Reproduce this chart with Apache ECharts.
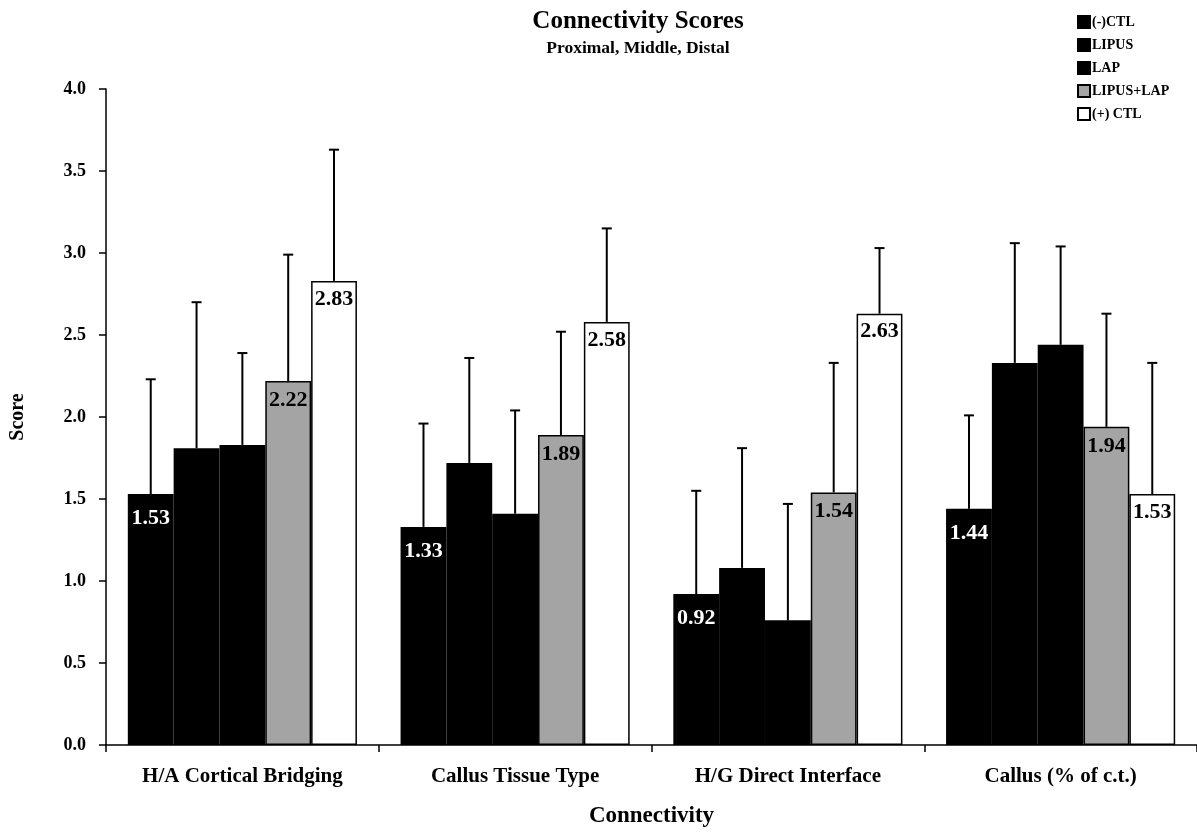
<!DOCTYPE html>
<html><head><meta charset="utf-8">
<script src="https://cdn.jsdelivr.net/npm/echarts@6/dist/echarts.min.js"></script>
<style>html,body{margin:0;padding:0;background:#fff}#c{width:1197px;height:833px}</style>
</head><body><div id="c"></div>
<script>
const categories = ['H/A Cortical Bridging', 'Callus Tissue Type', 'H/G Direct Interface', 'Callus (% of c.t.)'];
const seriesNames = ['(-)CTL', 'LIPUS', 'LAP', 'LIPUS+LAP', '(+) CTL'];
const ctlNeg = [1.53, 1.33, 0.92, 1.44];
const lipus = [1.81, 1.72, 1.08, 2.33];
const lap = [1.83, 1.41, 0.76, 2.44];
const lipusLap = [2.22, 1.89, 1.54, 1.94];
const ctlPos = [2.83, 2.58, 2.63, 1.53];
// upper ends of the error bars
const ctlNegUpper = [2.23, 1.96, 1.55, 2.01];
const lipusUpper = [2.70, 2.36, 1.81, 3.06];
const lapUpper = [2.39, 2.04, 1.47, 3.04];
const lipusLapUpper = [2.99, 2.52, 2.33, 2.63];
const ctlPosUpper = [3.63, 3.15, 3.03, 2.33];
const yTicks = [0, 0.5, 1, 1.5, 2, 2.5, 3, 3.5, 4];

const FONT = 'Liberation Serif';
const means = [ctlNeg, lipus, lap, lipusLap, ctlPos];
const uppers = [ctlNegUpper, lipusUpper, lapUpper, lipusLapUpper, ctlPosUpper];
const colors = ['#000', '#000', '#000', '#a4a4a4', '#fff'];
const labelShow = [true, false, false, true, true];
const labelColor = ['#fff', '#000', '#000', '#000', '#000'];
const labelDist = [13, 7, 7, 8, 7];
const CAT_GAP = 0.16;

const errData = [];
means.forEach((arr, s) => arr.forEach((v, i) => errData.push([i, s, v, uppers[s][i]])));

const barSeries = means.map((arr, s) => ({
  name: seriesNames[s],
  type: 'bar',
  data: arr,
  barGap: '0%',
  barCategoryGap: (CAT_GAP * 100) + '%',
  itemStyle: { color: colors[s], borderColor: '#000', borderWidth: 1.5 },
  label: {
    show: labelShow[s], position: 'insideTop', distance: labelDist[s],
    color: labelColor[s], fontFamily: FONT, fontWeight: 'bold', fontSize: 22,
    formatter: p => p.value.toFixed(2)
  },
  z: 2
}));

const chart = echarts.init(document.getElementById('c'), null, { renderer: 'canvas' });
chart.setOption({
  animation: false,
  backgroundColor: '#fff',
  title: {
    text: 'Connectivity Scores',
    subtext: 'Proximal, Middle, Distal',
    left: 633, top: 4, textAlign: 'center', itemGap: 5,
    textStyle: { fontFamily: FONT, fontWeight: 'bold', fontSize: 25, color: '#000' },
    subtextStyle: { fontFamily: FONT, fontWeight: 'bold', fontSize: 17.5, color: '#000' }
  },
  legend: {
    data: seriesNames, orient: 'vertical', left: 1072, top: 10,
    itemWidth: 12, itemHeight: 12, itemGap: 9, icon: 'rect',
    textStyle: { fontFamily: FONT, fontWeight: 'bold', fontSize: 14, color: '#000', padding: [0, 0, 0, -3] }
  },
  grid: { left: 104, right: -3, top: 89, bottom: 87, containLabel: false },
  xAxis: {
    type: 'category', data: categories,
    name: 'Connectivity', nameLocation: 'middle', nameGap: 60,
    nameTextStyle: { fontFamily: FONT, fontWeight: 'bold', fontSize: 23, color: '#000' },
    axisLine: { lineStyle: { color: '#000', width: 1.5 } },
    axisTick: { show: true, length: 7, lineStyle: { color: '#000', width: 1.5 } },
    axisLabel: { fontFamily: FONT, fontWeight: 'bold', fontSize: 21, color: '#000', margin: 21 }
  },
  yAxis: {
    type: 'value', min: yTicks[0], max: yTicks[yTicks.length - 1], interval: 0.5,
    name: 'Score', nameLocation: 'middle', nameGap: 78, nameRotate: 90,
    nameTextStyle: { fontFamily: FONT, fontWeight: 'bold', fontSize: 20, color: '#000' },
    axisLine: { show: true, lineStyle: { color: '#000', width: 1.5 } },
    axisTick: { show: true, length: 7, lineStyle: { color: '#000', width: 1.5 } },
    splitLine: { show: false },
    axisLabel: { fontFamily: FONT, fontWeight: 'bold', fontSize: 18, color: '#000', margin: 20,
      formatter: v => v.toFixed(1) }
  },
  series: barSeries.concat([{
    type: 'custom',
    name: 'err',
    data: errData,
    encode: { x: 0, y: 3 },
    z: 5,
    silent: true,
    renderItem: function (params, api) {
      const ci = api.value(0), s = api.value(1);
      const base = api.coord([ci, api.value(2)]);
      const top = api.coord([ci, api.value(3)]);
      const band = api.size([1, 0])[0];
      const total = band * (1 - CAT_GAP);
      const bw = total / 5;
      const x = base[0] - total / 2 + bw * (s + 0.5);
      const cap = 5;
      const st = { stroke: '#000', lineWidth: 2 };
      return { type: 'group', children: [
        { type: 'line', shape: { x1: x, y1: base[1], x2: x, y2: top[1] }, style: st },
        { type: 'line', shape: { x1: x - cap, y1: top[1], x2: x + cap, y2: top[1] }, style: st }
      ]};
    }
  }])
});
</script></body></html>
